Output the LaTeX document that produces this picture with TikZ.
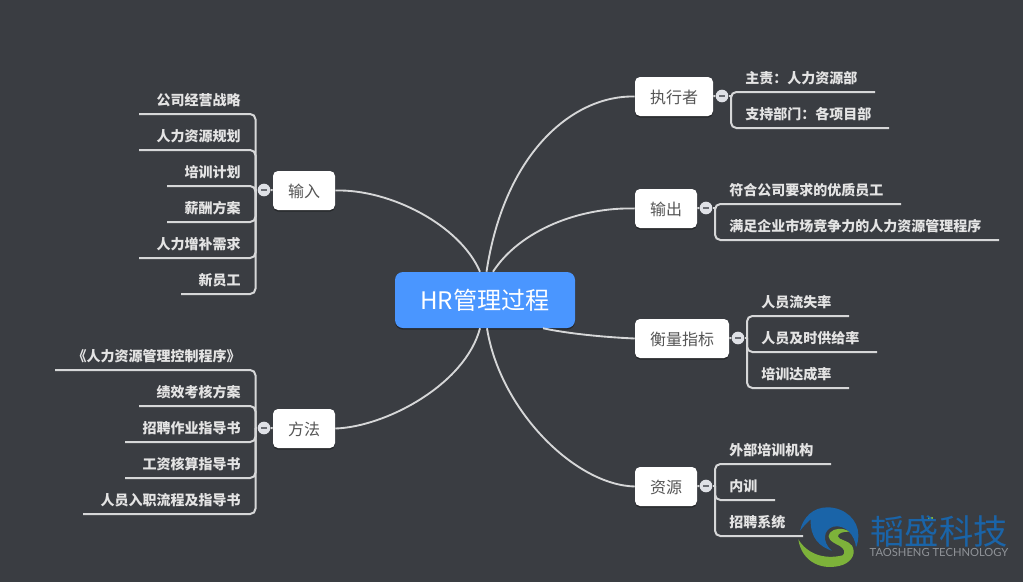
\documentclass[tikz,border=0pt]{standalone}
\usepackage{fontspec}
\usetikzlibrary{calc,shadows}
\setmainfont{Noto Sans CJK SC}
\newfontfamily\latinlogo{Lato}
\definecolor{bgc}{HTML}{3A3D42}
\definecolor{wirec}{HTML}{D6D7D8}
\definecolor{hrc}{HTML}{4A96FF}
\definecolor{leafc}{HTML}{E4E4E4}
\definecolor{topicc}{HTML}{555555}
\definecolor{dotc}{HTML}{DFE1E6}
\definecolor{minusc}{HTML}{6A6D73}
\definecolor{logob}{HTML}{1A64A8}
\definecolor{logog}{HTML}{7DB23A}
\definecolor{logot}{HTML}{8F9398}
\tikzset{
  softshadow/.style={drop shadow={shadow xshift=0pt,shadow yshift=-1.2pt,opacity=.35,fill=black}},
  hrbox/.style={fill=hrc,rounded corners=6pt,minimum width=135pt,minimum height=42pt,inner sep=0pt,text=white,font=\fontsize{18.1pt}{20pt}\selectfont,softshadow},
  topic/.style={fill=white,rounded corners=3.75pt,minimum height=29.25pt,inner sep=0pt,text height=10.5pt,text depth=0pt,text=topicc,font=\fontsize{12pt}{14pt}\selectfont,softshadow},
  leafL/.style={anchor=east,inner sep=0pt,text=leafc,font=\bfseries\fontsize{10.5pt}{12pt}\selectfont},
  leafR/.style={anchor=west,inner sep=0pt,text=leafc,font=\bfseries\fontsize{10.5pt}{12pt}\selectfont},
  curve/.style={draw=wirec,line width=1.4pt},
  twig/.style={draw=wirec,line width=1.5pt,rounded corners=4pt},
  stub/.style={draw=wirec,line width=1.5pt},
  foldmark/.style={circle,fill=dotc,minimum size=9.5pt,inner sep=0pt},
  minus/.style={draw=minusc,line width=1.5pt}
}
\begin{document}
\begin{tikzpicture}[x=0.75pt,y=-0.75pt]
\useasboundingbox (0,0) rectangle (1023,582);
\fill[bgc] (0,0) rectangle (1023,582);

% --- nodes
\node[hrbox] (hr) at (485,300) {HR管理过程};
\node[topic,minimum width=46.5pt] (input) at (304,190.5) {输入};
\node[topic,minimum width=46.5pt] (method) at (304,428.5) {方法};
\node[topic,minimum width=58.5pt] (exec) at (674,96.5) {执行者};
\node[topic,minimum width=46.5pt] (output) at (666,208.5) {输出};
\node[topic,minimum width=70.5pt] (metric) at (682,338.5) {衡量指标};
\node[topic,minimum width=46.5pt] (res) at (666,486.5) {资源};

% --- main curves
\coordinate (s1) at ($(hr.north)+(1.5,0)$);
\coordinate (s2) at ($(hr.north)+(8,0)$);
\coordinate (s3) at ($(hr.north)+(-5,0)$);
\coordinate (s4) at ($(hr.south)+(-5,0)$);
\coordinate (s5) at ($(hr.south)+(2,0)$);
\coordinate (s6) at ($(hr.south)+(58,0)$);
\draw[curve] (s1) .. controls (505,150) and (575,95) .. (exec.west);
\draw[curve] (s2) .. controls (520,230) and (580,207) .. (output.west);
\draw[curve] (s3) .. controls (460,225) and (390,189) .. (input.east);
\draw[curve] (s4) .. controls (465,385) and (385,427) .. (method.east);
\draw[curve] (s5) .. controls (500,410) and (575,485) .. (res.west);
\draw[curve] (s6) .. controls (565,333) and (600,337) .. (metric.west);

% --- fold marks
\node[foldmark] (fa) at (264,190) {};
\node[foldmark] (fb) at (264,428) {};
\node[foldmark] (fc) at (722,96) {};
\node[foldmark] (fd) at (706,208) {};
\node[foldmark] (fe) at (738,338) {};
\node[foldmark] (ff) at (706,486) {};
\coordinate (ta) at (255.5,190);
\coordinate (tb) at (255.5,428);
\coordinate (tc) at (731,96);
\coordinate (td) at (715,208);
\coordinate (te) at (747,338);
\coordinate (tf) at (715,486);

\foreach \f/\t/\n in {fa/ta/input,fb/tb/method,fc/tc/exec,fd/td/output,fe/te/metric,ff/tf/res}{
  \draw[stub] (\t) -- (\f);
  \draw[stub] (\f) -- (\n);
  \draw[minus] ($(\f)+(-3,0)$) -- ($(\f)+(3,0)$);
}

% --- leaf texts
\node[leafL] (a1) at (241,100) {公司经营战略};
\node[leafL] (a2) at (241,136) {人力资源规划};
\node[leafL] (a3) at (241,172) {培训计划};
\node[leafL] (a4) at (241,208) {薪酬方案};
\node[leafL] (a5) at (241,244) {人力增补需求};
\node[leafL] (a6) at (241,280) {新员工};

\node[leafL] (b1) at (241,356) {《人力资源管理控制程序》};
\node[leafL] (b2) at (241,392) {绩效考核方案};
\node[leafL] (b3) at (241,428) {招聘作业指导书};
\node[leafL] (b4) at (241,464) {工资核算指导书};
\node[leafL] (b5) at (241,500) {人员入职流程及指导书};

\node[leafR] (c1) at (745,78) {主责：人力资源部};
\node[leafR] (c2) at (745,114) {支持部门：各项目部};

\node[leafR] (d1) at (729,190) {符合公司要求的优质员工};
\node[leafR] (d2) at (729,226) {满足企业市场竞争力的人力资源管理程序};

\node[leafR] (e1) at (761,302) {人员流失率};
\node[leafR] (e2) at (761,338) {人员及时供给率};
\node[leafR] (e3) at (761,374) {培训达成率};

\node[leafR] (f1) at (729,450) {外部培训机构};
\node[leafR] (f2) at (729,486) {内训};
\node[leafR] (f3) at (729,522) {招聘系统};

% --- twigs (underline of every leaf, joined to the trunk)
\coordinate (a1e) at (139,114);
\coordinate (a2e) at (139,150);
\coordinate (a3e) at (167,186);
\coordinate (a4e) at (167,222);
\coordinate (a5e) at (139,258);
\coordinate (a6e) at (181,294);
\foreach \c in {a1e,a2e,a3e,a4e,a5e,a6e}{\draw[twig] (\c) -| (ta);}

\coordinate (b1e) at (55,370);
\coordinate (b2e) at (139,406);
\coordinate (b3e) at (125,442);
\coordinate (b4e) at (125,478);
\coordinate (b5e) at (83,514);
\foreach \c in {b1e,b2e,b3e,b4e,b5e}{\draw[twig] (\c) -| (tb);}

\coordinate (c1e) at (875,92);
\coordinate (c2e) at (889,128);
\foreach \c in {c1e,c2e}{\draw[twig] (\c) -| (tc);}

\coordinate (d1e) at (901,204);
\coordinate (d2e) at (999,240);
\foreach \c in {d1e,d2e}{\draw[twig] (\c) -| (td);}

\coordinate (e1e) at (849,316);
\coordinate (e2e) at (877,352);
\coordinate (e3e) at (849,388);
\foreach \c in {e1e,e2e,e3e}{\draw[twig] (\c) -| (te);}

\coordinate (f1e) at (831,464);
\coordinate (f2e) at (775,500);
\coordinate (f3e) at (803,536);
\foreach \c in {f1e,f2e,f3e}{\draw[twig] (\c) -| (tf);}

% --- logo (drawn directly)
\begin{scope}[shift={(790,500)},x=0.25pt,y=-0.25pt]
\fill[logob] (30,92) .. controls (40,50) and (70,22) .. (112,22)
  .. controls (165,22) and (205,60) .. (205,105)
  .. controls (205,118) and (203,130) .. (198,142)
  .. controls (195,105) and (165,72) .. (130,80)
  .. controls (100,88) and (95,125) .. (125,152)
  .. controls (90,140) and (60,115) .. (62,58)
  .. controls (50,68) and (40,80) .. (30,92) -- cycle;
\fill[logog] (25,118) .. controls (50,160) and (100,180) .. (158,166)
  .. controls (168,158) and (162,145) .. (148,137)
  .. controls (122,125) and (108,113) .. (120,98)
  .. controls (132,84) and (158,82) .. (178,95)
  .. controls (160,94) and (142,100) .. (144,110)
  .. controls (146,120) and (174,120) .. (186,137)
  .. controls (198,158) and (188,182) .. (160,194)
  .. controls (100,215) and (35,188) .. (25,118) -- cycle;
\end{scope}
\fill[logog] (928,517) rectangle (933,519.5);
\node[inner sep=0pt,text=logob,font=\fontsize{25.7pt}{28pt}\selectfont] (lg1) at (939,531) {韬盛科技};
\node[inner sep=0pt,text=logot,font=\latinlogo\fontsize{8.4pt}{10pt}\selectfont] (lg2) at (939,552.5) {TAOSHENG TECHNOLOGY};
\end{tikzpicture}
\end{document}
